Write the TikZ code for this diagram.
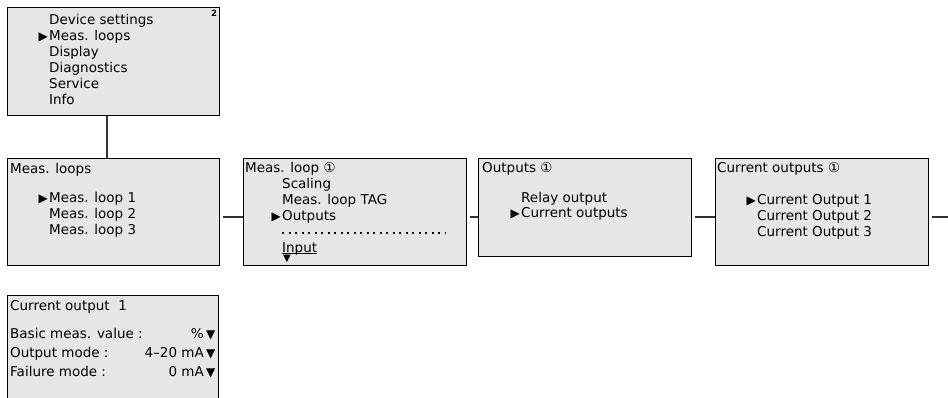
\documentclass[tikz,border=0pt]{standalone}
\usepackage{fontspec}
\setmainfont{DejaVu Sans}
\newfontfamily\lcdfont{DejaVu Sans}
\usetikzlibrary{positioning}
\definecolor{lcdgray}{HTML}{E6E6E6}
\definecolor{wire}{HTML}{333333}
\tikzset{
  screen/.style={draw=black, line width=1.3pt, fill=lcdgray, anchor=north west, inner sep=0pt, minimum width=212pt, minimum height=107pt},
  lcd/.style={font=\lcdfont\fontsize{13.5}{16}\selectfont, text=black, anchor=base west, inner sep=0pt},
  cursor/.style={font=\lcdfont\fontsize{12}{12}\selectfont, text=black, anchor=base east, inner sep=0pt},
  link/.style={draw=wire, line width=2pt},
  dots/.style={line width=2pt, dash pattern=on 2pt off 4.5pt}
}

\begin{document}
\begin{tikzpicture}[x=1pt,y=1pt]
\useasboundingbox (0,0) rectangle (948,397);
\clip (0,0) rectangle (948,397);

% screens
\node[screen, minimum height=108pt] (menu) at (7,390) {};
\node[screen] (loops) at (7,239) {};
\node[screen, minimum width=223pt] (loop) at (243,239) {};
\node[screen, minimum width=213pt, minimum height=98pt] (outputs) at (478,239) {};
\node[screen, minimum width=213pt] (curouts) at (715,239) {};
\node[screen, minimum width=211pt, minimum height=120pt] (curout) at (7,102) {};

% connectors
\draw[link] ([xshift=-7pt]menu.south) -- ([xshift=-7pt]loops.north);
\draw[link] ([shift={(3pt,-59pt)}]loops.north east) -- ([yshift=-59pt]loop.north west);
\draw[link] ([shift={(3pt,-59pt)}]loop.north east) -- ([yshift=-59pt]outputs.north west);
\draw[link] ([shift={(3pt,-59pt)}]outputs.north east) -- ([yshift=-59pt]curouts.north west);
\coordinate (more) at (948,180);
\draw[link] ([shift={(3pt,-59pt)}]curouts.north east) -- (more);

% main menu
\foreach \txt [count=\i] in {Device settings, Meas. loops, Display, Diagnostics, Service, Info}
  \node[lcd] (menuI\i) at ([shift={(42pt,-2pt-16pt*\i)}]menu.north west) {\txt};
\node[cursor] at ([xshift=-1pt]menuI2.base west) {▶};
\node[font=\lcdfont\bfseries\fontsize{8.5}{8.5}\selectfont, anchor=north east, inner sep=0pt] (menuPage) at ([shift={(-3pt,-3pt)}]menu.north east) {2};

% Meas. loops
\node[lcd] (loopsT) at ([shift={(3pt,-15pt)}]loops.north west) {Meas. loops};
\foreach \n in {1,2,3}
  \node[lcd] (loopsI\n) at ([shift={(42pt,-28pt-16pt*\n)}]loops.north west) {Meas. loop \n};
\node[cursor] at ([xshift=-1pt]loopsI1.base west) {▶};

% Meas. loop
\node[lcd] (loopT) at ([shift={(2pt,-14pt)}]loop.north west) {Meas. loop ①};
\foreach \txt [count=\i] in {Scaling, Meas. loop TAG, Outputs}
  \node[lcd] (loopI\i) at ([shift={(39pt,-14pt-16pt*\i)}]loop.north west) {\txt};
\node[cursor] at ([xshift=-1pt]loopI3.base west) {▶};
\draw[dots] ([shift={(39pt,-75pt)}]loop.north west) -- ([shift={(202pt,-75pt)}]loop.north west);
\node[lcd] (loopIn) at ([shift={(39pt,-94pt)}]loop.north west) {Input};
\draw[line width=1pt] ([yshift=-1.5pt]loopIn.base west) -- ([yshift=-1.5pt]loopIn.base east);
\node[font=\lcdfont\fontsize{10}{10}\selectfont, anchor=north, inner sep=0pt] (loopMore) at ([shift={(5pt,-2.5pt)}]loopIn.base west) {▼};

% Outputs
\node[lcd] (outputsT) at ([shift={(4pt,-14pt)}]outputs.north west) {Outputs ①};
\node[lcd] (outputsI1) at ([shift={(43pt,-44pt)}]outputs.north west) {Relay output};
\node[lcd] (outputsI2) at ([shift={(43pt,-59pt)}]outputs.north west) {Current outputs};
\node[cursor] at ([xshift=-1pt]outputsI2.base west) {▶};

% Current outputs
\node[lcd] (curoutsT) at ([shift={(2pt,-14pt)}]curouts.north west) {Current outputs ①};
\foreach \n in {1,2,3}
  \node[lcd] (curoutsI\n) at ([shift={(42pt,-30pt-16pt*\n)}]curouts.north west) {Current Output \n};
\node[cursor] at ([xshift=-1pt]curoutsI1.base west) {▶};

% Current output 1
\node[lcd] (curoutT) at ([shift={(3pt,-15pt)}]curout.north west) {Current output\ \ 1};
\foreach \lbl/\val [count=\i] in {Basic meas. value :/\%, Output mode :/4–20 mA, Failure mode :/0 mA} {
  \node[lcd] (curoutL\i) at ([shift={(3pt,-24pt-19pt*\i)}]curout.north west) {\lbl};
  \node[lcd, anchor=base east] (curoutV\i) at ([shift={(197pt,-24pt-19pt*\i)}]curout.north west) {\val};
  \node[cursor, anchor=base west] (curoutC\i) at ([xshift=2pt]curoutV\i.base east) {▼};
}

\end{tikzpicture}
\end{document}
